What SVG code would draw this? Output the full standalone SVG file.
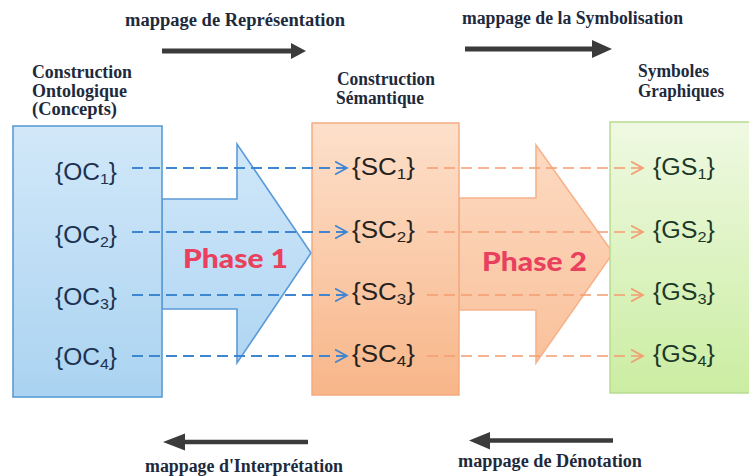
<svg xmlns="http://www.w3.org/2000/svg" width="749" height="476" viewBox="0 0 749 476">
  <defs>
    <linearGradient id="gBlue" x1="0" y1="0" x2="0" y2="1">
      <stop offset="0" stop-color="#d2e8f9"/>
      <stop offset="1" stop-color="#aad3f1"/>
    </linearGradient>
    <linearGradient id="gBlueArrow" x1="0" y1="0" x2="0" y2="1">
      <stop offset="0" stop-color="#d0e7f9"/>
      <stop offset="1" stop-color="#b0d6f3"/>
    </linearGradient>
    <linearGradient id="gOrange" x1="0" y1="0" x2="0" y2="1">
      <stop offset="0" stop-color="#fde0cb"/>
      <stop offset="1" stop-color="#f8b689"/>
    </linearGradient>
    <linearGradient id="gOrangeArrow" x1="0" y1="0" x2="0" y2="1">
      <stop offset="0" stop-color="#fddac1"/>
      <stop offset="1" stop-color="#f9c19b"/>
    </linearGradient>
    <linearGradient id="gGreen" x1="0" y1="0" x2="0" y2="1">
      <stop offset="0" stop-color="#eff9e2"/>
      <stop offset="1" stop-color="#cbeda2"/>
    </linearGradient>
    <marker id="chevBlue" viewBox="0 0 14 14" refX="12" refY="7" markerWidth="14" markerHeight="14" markerUnits="userSpaceOnUse" orient="auto">
      <path d="M0,0.5 L12,7 L0,13.5" fill="none" stroke="#3f86d2" stroke-width="1.7" stroke-dasharray="none"/>
    </marker>
    <marker id="chevOrange" viewBox="0 0 14 14" refX="12" refY="7" markerWidth="14" markerHeight="14" markerUnits="userSpaceOnUse" orient="auto">
      <path d="M0,0.5 L12,7 L0,13.5" fill="none" stroke="#f59c70" stroke-width="1.7" stroke-dasharray="none"/>
    </marker>
  </defs>
  <style>
    .head { font-family: "Liberation Serif", "DejaVu Serif", serif; font-weight: bold; font-size: 18.5px; fill: #1e2a3c; }
    .map { font-family: "Liberation Serif", "DejaVu Serif", serif; font-weight: bold; font-size: 18px; fill: #1e2a3c; }
    .item { font-family: "Liberation Sans", Arial, sans-serif; font-size: 23px; }
    .sub { font-size: 15px; }
    .oc { fill: #1c3250; }
    .sc { fill: #262220; }
    .gs { fill: #1b3828; }
    .phase { font-family: Lato, "Open Sans", "Liberation Sans", sans-serif; font-weight: 900; font-size: 26px; fill: #e8405d; }
    .dashBlue { fill: none; stroke: #3f86d2; stroke-width: 1.8; stroke-dasharray: 11 6; marker-end: url(#chevBlue); }
    .dashOrange { fill: none; stroke: #f59c70; stroke-width: 1.7; stroke-dasharray: 11 6; marker-end: url(#chevOrange); }
    .dark { fill: #3b3b3b; }
  </style>

  <!-- mapping labels and direction arrows -->
  <g id="map-representation">
    <text class="map" x="125" y="26" textLength="220" lengthAdjust="spacingAndGlyphs">mappage  de Représentation</text>
    <path class="dark" d="M162,48.5 H291 V43 L306,51 L291,59 V53.5 H162 Z"/>
  </g>
  <g id="map-symbolisation">
    <text class="map" x="462" y="24" textLength="221" lengthAdjust="spacingAndGlyphs">mappage de la Symbolisation</text>
    <path class="dark" d="M465,46.5 H592 V40 L612,49 L592,58 V51.5 H465 Z"/>
  </g>
  <g id="map-interpretation">
    <path class="dark" d="M163,442 L185,433.5 V439.8 H308 V444.2 H185 V450.5 Z"/>
    <text class="map" x="145" y="472" textLength="198" lengthAdjust="spacingAndGlyphs">mappage d'Interprétation</text>
  </g>
  <g id="map-denotation">
    <path class="dark" d="M469,440.5 L490,432 V438.3 H613 V442.7 H490 V449.5 Z"/>
    <text class="map" x="458" y="467" textLength="184" lengthAdjust="spacingAndGlyphs">mappage de Dénotation</text>
  </g>

  <!-- column headings -->
  <g id="head-ontologique">
    <text class="head" x="32" y="78" textLength="100" lengthAdjust="spacingAndGlyphs">Construction</text>
    <text class="head" x="32" y="97" textLength="95" lengthAdjust="spacingAndGlyphs">Ontologique</text>
    <text class="head" x="32" y="115" textLength="85" lengthAdjust="spacingAndGlyphs">(Concepts)</text>
  </g>
  <g id="head-semantique">
    <text class="head" x="337" y="85" textLength="98" lengthAdjust="spacingAndGlyphs">Construction</text>
    <text class="head" x="336" y="104" textLength="88" lengthAdjust="spacingAndGlyphs">Sémantique</text>
  </g>
  <g id="head-symboles">
    <text class="head" x="638" y="77" textLength="71" lengthAdjust="spacingAndGlyphs">Symboles</text>
    <text class="head" x="638" y="97" textLength="86" lengthAdjust="spacingAndGlyphs">Graphiques</text>
  </g>

  <!-- phase arrows -->
  <g id="phase1">
    <path d="M162,199 H237 V144 L311,253 L237,363 V309 H162 Z" fill="url(#gBlueArrow)" stroke="#5b9bd8" stroke-width="1.6"/>
    <text class="phase" x="183" y="268" textLength="105" lengthAdjust="spacingAndGlyphs">Phase 1</text>
  </g>
  <g id="phase2">
    <path d="M459,198 H536 V145 L613,253 L536,363 V310 H459 Z" fill="url(#gOrangeArrow)" stroke="#f7b28c" stroke-width="1.6"/>
    <text class="phase" x="482" y="271" textLength="105" lengthAdjust="spacingAndGlyphs">Phase 2</text>
  </g>

  <!-- concept columns -->
  <g id="ontologique">
    <rect x="13" y="126" width="149" height="271" fill="url(#gBlue)" stroke="#5b9bd5" stroke-width="1.6"/>
    <text class="item oc" x="55" y="180" textLength="62" lengthAdjust="spacingAndGlyphs">{OC<tspan class="sub" dy="4">1</tspan><tspan dy="-4">}</tspan></text>
    <text class="item oc" x="55" y="243" textLength="62" lengthAdjust="spacingAndGlyphs">{OC<tspan class="sub" dy="4">2</tspan><tspan dy="-4">}</tspan></text>
    <text class="item oc" x="55" y="305" textLength="62" lengthAdjust="spacingAndGlyphs">{OC<tspan class="sub" dy="4">3</tspan><tspan dy="-4">}</tspan></text>
    <text class="item oc" x="55" y="365" textLength="62" lengthAdjust="spacingAndGlyphs">{OC<tspan class="sub" dy="4">4</tspan><tspan dy="-4">}</tspan></text>
  </g>
  <g id="semantique">
    <rect x="312" y="123" width="147" height="272" fill="url(#gOrange)" stroke="#f4a97d" stroke-width="1.4"/>
    <text class="item sc" x="352" y="175" textLength="63" lengthAdjust="spacingAndGlyphs">{SC<tspan class="sub" dy="4">1</tspan><tspan dy="-4">}</tspan></text>
    <text class="item sc" x="352" y="238" textLength="63" lengthAdjust="spacingAndGlyphs">{SC<tspan class="sub" dy="4">2</tspan><tspan dy="-4">}</tspan></text>
    <text class="item sc" x="352" y="300" textLength="63" lengthAdjust="spacingAndGlyphs">{SC<tspan class="sub" dy="4">3</tspan><tspan dy="-4">}</tspan></text>
    <text class="item sc" x="352" y="362" textLength="63" lengthAdjust="spacingAndGlyphs">{SC<tspan class="sub" dy="4">4</tspan><tspan dy="-4">}</tspan></text>
  </g>
  <g id="symboles">
    <rect x="610" y="122" width="145" height="271" fill="url(#gGreen)" stroke="#b3d98a" stroke-width="1.4"/>
    <text class="item gs" x="653" y="175" textLength="62" lengthAdjust="spacingAndGlyphs">{GS<tspan class="sub" dy="4">1</tspan><tspan dy="-4">}</tspan></text>
    <text class="item gs" x="653" y="238" textLength="62" lengthAdjust="spacingAndGlyphs">{GS<tspan class="sub" dy="4">2</tspan><tspan dy="-4">}</tspan></text>
    <text class="item gs" x="653" y="300" textLength="62" lengthAdjust="spacingAndGlyphs">{GS<tspan class="sub" dy="4">3</tspan><tspan dy="-4">}</tspan></text>
    <text class="item gs" x="653" y="362" textLength="62" lengthAdjust="spacingAndGlyphs">{GS<tspan class="sub" dy="4">4</tspan><tspan dy="-4">}</tspan></text>
  </g>

  <!-- dashed correspondences -->
  <g id="connectors">
    <path class="dashBlue" d="M132,168 H347"/>
    <path class="dashBlue" d="M132,232 H347"/>
    <path class="dashBlue" d="M132,295 H347"/>
    <path class="dashBlue" d="M132,356 H347"/>
    <path class="dashOrange" d="M427,168 H643"/>
    <path class="dashOrange" d="M427,232 H643"/>
    <path class="dashOrange" d="M427,295 H643"/>
    <path class="dashOrange" d="M427,356 H643"/>
  </g>
</svg>
